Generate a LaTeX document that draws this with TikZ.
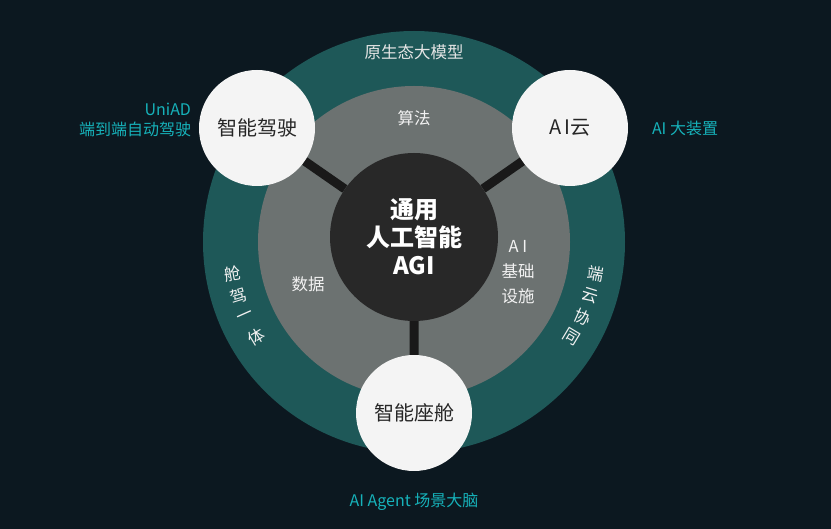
\documentclass[tikz,border=0pt]{standalone}
\usepackage{fontspec}
\usetikzlibrary{calc}
\setmainfont{Noto Sans CJK SC}
\begin{document}
\begin{tikzpicture}[x=1pt,y=-1pt,
  teal/.style={text={rgb,255:red,22;green,178;blue,186}, font=\fontsize{16}{20}\selectfont},
  lab/.style={text=white!90!gray, font=\fontsize{16.5}{20}\selectfont},
  wc/.style={circle, fill=white!91!gray, minimum size=116pt, inner sep=0pt, text=black!85, font=\fontsize{20}{24}\selectfont}]
\fill[fill={rgb,255:red,12;green,24;blue,32}] (0,0) rectangle (831,529);
\useasboundingbox (0,0) rectangle (831,529);
\coordinate (c) at (414,242);
\fill[fill={rgb,255:red,30;green,88;blue,88}] (c) circle (211);
\fill[fill={rgb,255:red,108;green,114;blue,113}] (c) circle (156);
\node[wc] (a) at (257,128) {智能驾驶};
\node[wc] (b) at (570,128) {A\,I云};
\node[wc] (d) at (414,413) {智能座舱};
\node[circle, fill={rgb,255:red,40;green,40;blue,40}, minimum size=168pt, inner sep=0pt, text=white, font=\bfseries\fontsize{24}{28}\selectfont, align=center] (m) at (414,237) {通用\\人工智能\\AGI};
\draw[line width=9pt, black!90] (m) -- (a) (m) -- (b) (m) -- (d);
\node[lab, text=white!80!gray] (t1) at (414,52) {原生态大模型};
\node[lab] (t2) at (414,118) {算法};
\node[lab] (t3) at (308,284) {数据};
\node[lab, align=center, font=\fontsize{16.5}{25}\selectfont] (t4) at (518,272) {A I\\基础\\设施};
\foreach \ch [count=\i] in {舱,驾,一,体}{
  \node[lab, rotate={190+7*(\i-1)-180}] at ($(414,242)+({cos(190+7*(\i-1))*184},{-sin(190+7*(\i-1))*184})$) {\ch};
}
\foreach \ch [count=\i] in {端,云,协,同}{
  \node[lab, rotate={-10-7*(\i-1)}] at ($(414,242)+({cos(-10-7*(\i-1))*184},{-sin(-10-7*(\i-1))*184})$) {\ch};
}
\node[teal, align=right] (u) at (135,120) {UniAD\\端到端自动驾驶};
\node[teal] (v) at (685,128) {AI 大装置};
\node[teal] (w) at (414,502) {AI Agent 场景大脑};
\end{tikzpicture}
\end{document}
